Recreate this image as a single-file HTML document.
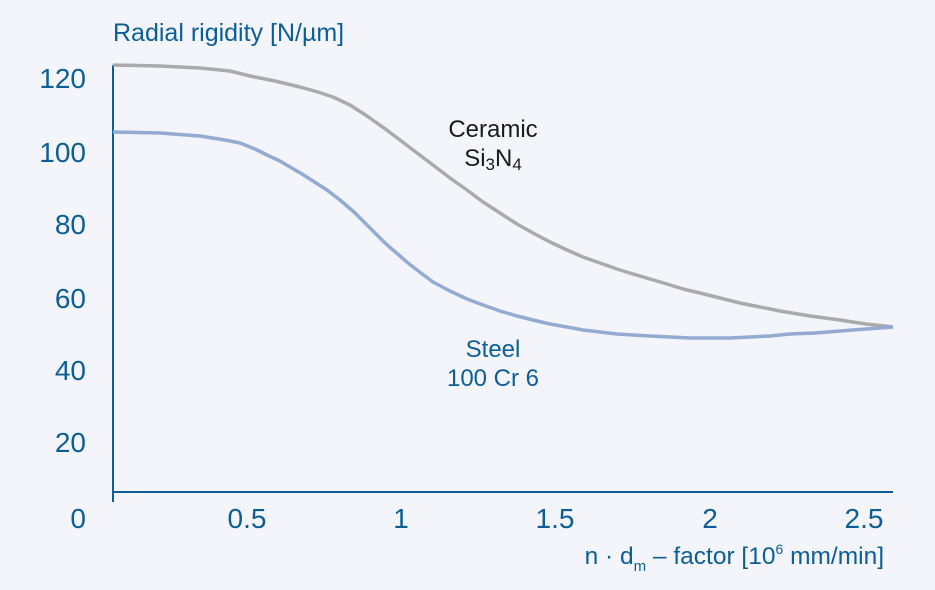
<!DOCTYPE html>
<html><head><meta charset="utf-8"><style>
html,body{margin:0;padding:0;background:#f3f5fa;}
svg{display:block;font-family:"Liberation Sans",sans-serif;}
</style></head><body>
<svg width="935" height="590" viewBox="0 0 935 590">
<rect width="935" height="590" fill="#f3f5fa"/>
<text x="113" y="41" font-size="25" fill="#0b5e96">Radial rigidity [N/µm]</text>
<g font-size="28" fill="#0b5e96" text-anchor="end">
<text x="86" y="88">120</text>
<text x="86" y="162">100</text>
<text x="86" y="234">80</text>
<text x="86" y="308">60</text>
<text x="86" y="380">40</text>
<text x="86" y="452">20</text>
<text x="86" y="528">0</text>
</g>
<g font-size="28" fill="#0b5e96" text-anchor="middle">
<text x="247" y="528">0.5</text>
<text x="401" y="528">1</text>
<text x="555" y="528">1.5</text>
<text x="710" y="528">2</text>
<text x="864" y="528">2.5</text>
</g>
<text x="884" y="564" font-size="24.5" fill="#0b5e96" text-anchor="end">n · d<tspan font-size="15" dy="7">m</tspan><tspan dy="-7"> – factor [10</tspan><tspan font-size="14" dy="-10">6</tspan><tspan dy="10"> mm/min]</tspan></text>
<line x1="113" y1="65" x2="113" y2="502" stroke="#0b5e96" stroke-width="2"/>
<line x1="113" y1="492" x2="893" y2="492" stroke="#0b5e96" stroke-width="2"/>
<polyline fill="none" stroke="#aaaaaa" stroke-width="3.5" stroke-linejoin="round" points="113,65 160,66 200,68 230,71 250,76 275,81 300,87 318,92 333,97 350,105 367,116 384,128 400,140 417,153 433,165 450,178 467,190 483,202 500,213 517,224 533,233 550,242 567,250 583,257 600,263 617,269 633,274 650,279 667,284 683,289 700,293 720,298 740,303 760,307 780,311 810,316 840,320 866,324 893,327"/>
<polyline fill="none" stroke="#93abd3" stroke-width="3.5" stroke-linejoin="round" points="113,132 160,133 200,136 225,140 240,143 255,149 267,155 280,161 290,167 302,174 313,181 327,190 340,200 354,212 367,225 376,234 385,243 393,250 400,256 408,263 417,270 425,276 433,282 450,291 467,299 483,305 500,311 517,316 533,320 550,324 567,327 583,330 600,332 617,334 633,335 650,336 670,337 690,338 710,338 730,338 750,337 770,336 790,334 815,333 840,331 866,329 893,327"/>
<g font-size="24" text-anchor="middle">
<text x="493" y="137" fill="#1a1a1a">Ceramic</text>
<text x="493" y="166" fill="#1a1a1a">Si<tspan font-size="17" dy="4">3</tspan><tspan dy="-4">N</tspan><tspan font-size="17" dy="4">4</tspan></text>
<text x="493" y="357" fill="#0b5e96">Steel</text>
<text x="493" y="386" fill="#0b5e96">100 Cr 6</text>
</g>
</svg>
</body></html>
